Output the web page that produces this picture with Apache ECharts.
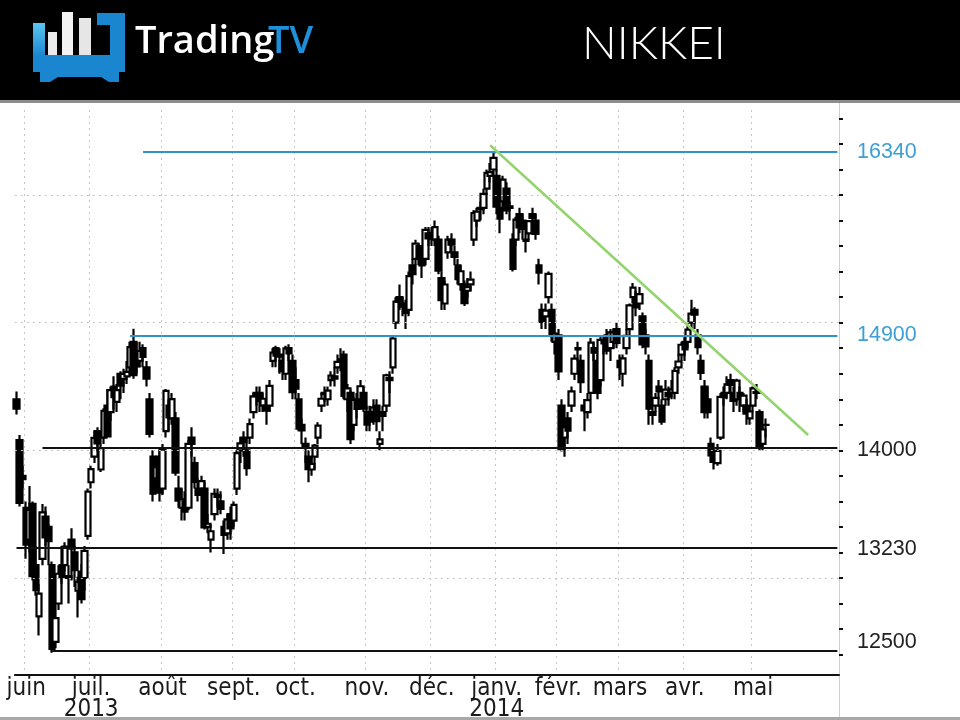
<!DOCTYPE html>
<html>
<head>
<meta charset="utf-8">
<script src="https://cdn.jsdelivr.net/npm/echarts@6/dist/echarts.min.js"></script>
<style>
html,body{margin:0;padding:0;background:#fff;}
#c{width:960px;height:720px;}
</style>
</head>
<body>
<div id="c"></div>
<script>
// ---- Daily candles: [day, open, close, low, high] ----
const may13 = [[29,14400,14326,14280,14460],[30,14080,13589,13560,14120],[31,13800,13774,13700,13880]];
const jun13 = [[3,13550,13262,13150,13600],[4,13300,13533,13200,13720],[5,13580,13014,12980,13600],[6,13100,12904,12860,13250],[7,12700,12877,12550,12950],[10,13150,13514,13100,13580],[11,13480,13317,13250,13560],[12,13400,13289,13100,13420],[13,13100,12445,12415,13130],[14,12500,12686,12450,12900],[17,12800,13033,12750,13100],[18,13100,13007,12950,13250],[19,13100,13245,13050,13280],[20,13000,13014,12800,13100],[21,13300,13230,12980,13390],[24,13200,13062,12930,13250],[25,12900,12969,12690,13010],[26,13050,12834,12800,13110],[27,13000,13213,12900,13250],[28,13330,13677,13300,13700]];
const jul13 = [[1,13750,13852,13700,13880],[2,13950,14098,13900,14150],[3,14150,14055,13990,14180],[4,13850,14018,13830,14050],[5,14100,14309,14050,14330],[8,14350,14109,14100,14480],[9,14300,14472,14230,14500],[10,14500,14416,14320,14580],[11,14380,14472,14300,14520],[12,14600,14506,14400,14620],[16,14560,14599,14450,14640],[17,14580,14615,14520,14700],[18,14650,14808,14600,14850],[19,14850,14589,14560,14953],[22,14750,14658,14600,14850],[23,14700,14778,14650,14850],[24,14800,14731,14650,14830],[25,14650,14562,14500,14700],[26,14400,14129,14100,14450],[29,13950,13661,13600,14000],[30,13780,13869,13700,13950],[31,13950,13668,13600,14000]];
const aug13 = [[1,13700,14005,13650,14050],[2,14150,14466,14100,14480],[5,14350,14258,14150,14400],[6,14250,14401,14200,14450],[7,14250,13825,13800,14300],[8,13700,13605,13550,13800],[9,13550,13615,13450,13700],[12,13600,13520,13450,13680],[13,13550,14050,13530,14080],[14,14100,14051,13950,14180],[15,13900,13752,13700,13950],[16,13700,13650,13600,13780],[19,13700,13758,13650,13800],[20,13700,13397,13380,13750],[21,13400,13425,13350,13500],[22,13300,13366,13200,13420],[23,13500,13660,13450,13700],[26,13650,13636,13550,13700],[27,13600,13542,13500,13680],[28,13400,13338,13188,13450],[29,13350,13459,13300,13500],[30,13500,13389,13300,13560]];
const sep13 = [[2,13450,13573,13400,13600],[3,13700,13978,13650,14000],[4,14000,14054,13900,14100],[5,14100,14065,13950,14150],[6,14000,13860,13800,14100],[9,14100,14205,14050,14250],[10,14300,14423,14250,14450],[11,14450,14425,14350,14500],[12,14450,14387,14300,14500],[13,14350,14404,14300,14450],[17,14350,14311,14200,14400],[18,14350,14505,14300,14550],[19,14700,14766,14650,14800],[20,14800,14742,14650,14820],[24,14750,14733,14600,14800],[25,14700,14620,14550,14750],[26,14600,14799,14550,14820],[27,14800,14760,14700,14830],[30,14700,14455,14400,14750]];
const oct13 = [[1,14550,14484,14400,14650],[2,14400,14170,14150,14450],[3,14200,14157,14050,14250],[4,14050,14024,13900,14100],[7,13950,13853,13750,14000],[8,13850,13894,13800,13950],[9,13950,14037,13850,14050],[10,14100,14194,14050,14220],[11,14350,14404,14300,14450],[15,14450,14441,14380,14500],[16,14400,14467,14350,14500],[17,14550,14586,14500,14620],[18,14580,14561,14500,14650],[21,14650,14693,14600,14750],[22,14700,14713,14620,14800],[23,14750,14426,14400,14780],[24,14400,14486,14300,14520],[25,14450,14088,14050,14470],[28,14200,14396,14150,14420],[29,14400,14325,14250,14450],[30,14400,14502,14350,14550],[31,14450,14327,14300,14500]];
const nov13 = [[1,14300,14201,14150,14350],[5,14300,14225,14150,14350],[6,14300,14337,14200,14400],[7,14350,14228,14150,14400],[8,14050,14086,14000,14150],[11,14300,14269,14150,14350],[12,14350,14588,14300,14600],[13,14550,14567,14450,14620],[14,14650,14876,14600,14900],[15,15000,15165,14950,15200],[18,15200,15164,15100,15300],[19,15150,15126,15050,15200],[20,15150,15076,14950,15180],[21,15100,15365,15050,15400],[22,15450,15381,15300,15500],[25,15500,15619,15450,15650],[26,15600,15515,15450,15620],[27,15500,15449,15350,15550],[28,15500,15727,15450,15750],[29,15700,15661,15600,15750]];
const dec13 = [[2,15700,15655,15600,15750],[3,15650,15749,15600,15800],[4,15650,15407,15380,15680],[5,15350,15177,15100,15400],[6,15150,15299,15100,15330],[9,15550,15650,15500,15680],[10,15650,15611,15550,15700],[11,15550,15515,15450,15600],[12,15450,15341,15300,15500],[13,15300,15403,15250,15450],[16,15300,15152,15130,15330],[17,15250,15278,15200,15350],[18,15300,15337,15250,15400],[19,15650,15859,15600,15880],[20,15800,15870,15750,15900],[24,15900,15889,15800,15950],[25,15900,16009,15850,16050],[26,16050,16174,16000,16200],[27,16150,16179,16100,16250],[30,16200,16291,16150,16340]];
const jan14 = [[6,16150,15908,15850,16200],[7,15900,15814,15700,15950],[8,15950,16121,15900,16150],[9,16050,15880,15850,16100],[10,15900,15912,15800,15950],[14,15650,15422,15400,15700],[15,15650,15808,15600,15830],[16,15850,15747,15700,15900],[17,15800,15734,15650,15850],[20,15650,15641,15550,15750],[21,15700,15795,15650,15800],[22,15850,15820,15750,15900],[23,15800,15695,15650,15850],[24,15450,15391,15300,15500],[27,15100,15006,14950,15150],[28,15050,15094,14950,15150],[29,15200,15383,15150,15400],[30,15100,14900,14850,15150],[31,14850,14915,14750,15000]];
const feb14 = [[3,14900,14619,14550,14950],[4,14350,14009,13990,14400],[5,14100,14181,13950,14250],[6,14250,14155,14050,14300],[7,14350,14462,14300,14500],[10,14600,14718,14550,14750],[12,14800,14790,14700,14850],[13,14700,14535,14450,14750],[14,14350,14313,14150,14400],[17,14300,14393,14250,14450],[18,14450,14843,14400,14880],[19,14800,14766,14700,14850],[20,14700,14449,14400,14750],[21,14550,14865,14500,14900],[24,14850,14837,14750,14900],[25,14900,14781,14750,14950],[26,14800,14924,14700,14950],[27,14850,14923,14800,14950],[28,14950,14841,14800,15000]];
const mar14 = [[3,14700,14652,14550,14750],[4,14600,14721,14500,14750],[5,14800,14897,14750,14950],[6,14950,15135,14900,15150],[7,15200,15274,15150,15310],[10,15200,15120,15050,15250],[11,15150,15224,15100,15280],[12,15050,14830,14800,15080],[13,14900,14815,14750,14950],[14,14700,14327,14200,14750],[17,14300,14277,14200,14400],[18,14350,14411,14300,14450],[19,14500,14462,14400,14550],[20,14350,14224,14200,14400],[24,14400,14475,14350,14550],[25,14450,14423,14350,14500],[26,14450,14477,14400,14550],[27,14450,14622,14400,14650],[28,14650,14696,14600,14750],[31,14750,14827,14700,14850]];
const apr14 = [[1,14850,14791,14700,14900],[2,14850,14946,14800,14980],[3,15000,15071,14950,15180],[4,15100,15063,14950,15120],[7,14900,14808,14750,14950],[8,14700,14607,14550,14750],[9,14500,14299,14250,14550],[10,14400,14300,14250,14500],[11,14050,13960,13900,14100],[14,13950,13910,13850,14000],[15,13900,13996,13880,14050],[16,14100,14418,14080,14450],[17,14450,14417,14350,14500],[18,14450,14516,14400,14580],[21,14550,14512,14450,14600],[22,14450,14388,14300,14500],[23,14400,14546,14350,14560],[24,14450,14404,14300,14500],[25,14350,14429,14300,14450],[28,14350,14288,14200,14400],[30,14250,14304,14200,14350]];
const may14 = [[1,14350,14485,14300,14500],[2,14450,14457,14400,14520],[7,14300,14033,14000,14320],[8,14050,14163,14000,14200],[9,14200,14199,14100,14250]];

// empty trading days on the right of the chart
const futureDays = ['2014-05-12','2014-05-13','2014-05-14','2014-05-15','2014-05-16','2014-05-19','2014-05-20','2014-05-21','2014-05-22','2014-05-23','2014-05-26','2014-05-27','2014-05-28','2014-05-29','2014-05-30','2014-06-02','2014-06-03','2014-06-04','2014-06-05','2014-06-06','2014-06-09','2014-06-10'];

// month labels (first trading day of each month)
const monthLabels = {'2013-06':'juin','2013-07':'juil.\n2013','2013-08':'août','2013-09':'sept.','2013-10':'oct.','2013-11':'nov.','2013-12':'déc.','2014-01':'janv.\n2014','2014-02':'févr.','2014-03':'mars','2014-04':'avr.','2014-05':'mai'};

// right axis
const yMin = 12240, yMax = 16666;
const tickLabels = [16340, 14900, 14000, 13230, 12500];
const blueLabels = [16340, 14900];
const tickMarks = [12400,12600,12800,13000,13200,13400,13600,13800,14000,14200,14400,14600,14800,15000,15200,15400,15600,15800,16000,16200,16400,16600];
const gridValues = [13000, 14000, 15000, 16000];

// support / resistance lines
const levelValues = [16340, 14900, 14020, 13240, 12430];
const levelStarts = ['2013-07-24', '2013-07-18', '2013-06-10', '2013-05-29', '2013-06-13'];
// trend line
const trendStart = ['2013-12-27', 16390];
const trendEnd = ['2014-05-28', 14120];

// ---- build ----
const monthData = [['2013-05',may13],['2013-06',jun13],['2013-07',jul13],['2013-08',aug13],['2013-09',sep13],['2013-10',oct13],['2013-11',nov13],['2013-12',dec13],['2014-01',jan14],['2014-02',feb14],['2014-03',mar14],['2014-04',apr14],['2014-05',may14]];
const categories = [], ohlc = [];
monthData.forEach(([m, rows]) => rows.forEach(r => {
  categories.push(m + '-' + String(r[0]).padStart(2, '0'));
  ohlc.push([r[1], r[2], r[3], r[4]]);
}));
futureDays.forEach(d => categories.push(d));
const lastCat = categories[categories.length - 1];
const labelMap = {};
const seen = {};
ohlc.forEach((_, i) => {
  const k = categories[i].slice(0, 7);
  if (monthLabels[k] && !seen[k]) { seen[k] = 1; labelMap[i] = monthLabels[k]; }
});

const BLUE = '#2f93cc';
const narrow = "'Liberation Sans Narrow','Arial Narrow','DejaVu Sans Condensed','Roboto Condensed',sans-serif";

const levelLines = levelValues.map((v, i) => ({
  data: [{ coord: [levelStarts[i], v] }, { coord: [lastCat, v] }],
  color: i < 2 ? BLUE : '#111'
}));

const chart = echarts.init(document.getElementById('c'), null, { renderer: 'canvas' });
chart.setOption({
  animation: false,
  backgroundColor: '#fff',
  grid: { left: 14.88, right: 121, top: 110, bottom: 45, containLabel: false, outerBoundsMode: 'none' },
  xAxis: {
    type: 'category', data: categories, boundaryGap: true,
    axisLine: { show: true, lineStyle: { color: '#111', width: 2 } },
    axisTick: { show: false },
    axisLabel: {
      interval: (i) => labelMap.hasOwnProperty(i),
      formatter: (v, i) => labelMap[i] || '',
      color: '#1a1a1a', fontFamily: narrow, fontSize: 24, lineHeight: 21, margin: 3
    },
    splitLine: { show: true, interval: (i) => labelMap.hasOwnProperty(i), lineStyle: { color: '#c4c4c4', width: 1, type: [2, 4] } }
  },
  yAxis: {
    type: 'value', position: 'right', min: yMin, max: yMax,
    axisLine: { show: true, lineStyle: { color: '#cfcfcf', width: 1 } },
    axisTick: { show: true, customValues: tickMarks, length: 4, lineStyle: { color: '#111', width: 2 } },
    axisLabel: {
      show: true, customValues: tickLabels, margin: 18,
      formatter: (v) => String(v),
      fontFamily: "'Liberation Sans',Arial,sans-serif", fontSize: 21.5,
      color: (v) => blueLabels.indexOf(Number(v)) >= 0 ? '#3d9fd4' : '#222'
    },
    splitLine: { show: false }
  },
  series: [
    {
      type: 'line', data: [], z: 1, silent: true,
      markLine: {
        silent: true, symbol: ['none', 'none'], label: { show: false },
        lineStyle: { color: '#c4c4c4', width: 1, type: [2, 4] },
        data: gridValues.map(v => ({ yAxis: v }))
      }
    },
    {
      type: 'candlestick', data: ohlc, z: 3, barWidth: 6, silent: true,
      itemStyle: { color: '#fff', color0: '#000', borderColor: '#000', borderColor0: '#000', borderWidth: 2.2 },
      markLine: {
        silent: true, symbol: ['none', 'none'], label: { show: false },
        emphasis: { disabled: true },
        data: levelLines.map(l => [
          Object.assign({}, l.data[0], { lineStyle: { color: l.color, width: 2, type: 'solid' } }),
          l.data[1]
        ]).concat([[
          { coord: trendStart, lineStyle: { color: '#93d46e', width: 2.5, type: 'solid' } },
          { coord: trendEnd }
        ]])
      }
    }
  ],
  graphic: [
    { type: 'rect', shape: { x: 0, y: 0, width: 960, height: 100 }, style: { fill: '#000' }, z: 10 },
    { type: 'rect', shape: { x: 0, y: 100, width: 960, height: 3 }, style: { fill: '#8d8d8d' }, z: 10 },
    // logo
    { type: 'rect', shape: { x: 33, y: 55, width: 92, height: 17 }, style: { fill: '#1a86d0' }, z: 11 },
    { type: 'rect', shape: { x: 110, y: 13, width: 15, height: 59 }, style: { fill: '#1a86d0' }, z: 11 },
    { type: 'rect', shape: { x: 97, y: 13, width: 28, height: 12 }, style: { fill: '#1a86d0' }, z: 11 },
    { type: 'rect', shape: { x: 33, y: 23, width: 12, height: 33 },
      style: { fill: new echarts.graphic.LinearGradient(0, 0, 0, 1, [{ offset: 0, color: '#5cc6f2' }, { offset: 1, color: '#1a86d0' }]) }, z: 11 },
    { type: 'polygon', shape: { points: [[40, 72], [119, 72], [119, 82], [109, 82], [101, 77], [58, 77], [50, 82], [40, 82]] }, style: { fill: '#1a86d0' }, z: 11 },
    { type: 'rect', shape: { x: 48, y: 32, width: 9, height: 23 }, style: { fill: '#ececec' }, z: 11 },
    { type: 'rect', shape: { x: 62, y: 12, width: 11, height: 43 }, style: { fill: '#f2f2f2' }, z: 11 },
    { type: 'rect', shape: { x: 79, y: 18, width: 12, height: 37 }, style: { fill: '#e6e6e6' }, z: 11 },
    { type: 'text', x: 135, y: 42, style: { text: 'Trading', fill: '#fff', font: "600 38px 'Open Sans',sans-serif", textVerticalAlign: 'middle' }, z: 11 },
    { type: 'text', x: 268, y: 42, style: { text: 'TV', fill: '#1f8fda', font: "600 38px 'Open Sans',sans-serif", textVerticalAlign: 'middle' }, z: 11 },
    { type: 'text', x: 582, y: 44, style: { text: 'NIKKEI', fill: '#fff', font: "300 46px Lato,sans-serif", textVerticalAlign: 'middle' }, z: 11 },
    // right frame line and bottom edge
    { type: 'line', shape: { x1: 839.5, y1: 103, x2: 839.5, y2: 720 }, style: { stroke: '#d0d0d0', lineWidth: 1 }, z: 0 },
    { type: 'rect', shape: { x: 0, y: 717, width: 960, height: 3 }, style: { fill: '#a8a8a8' }, z: 10 }
  ]
});
</script>
</body>
</html>
